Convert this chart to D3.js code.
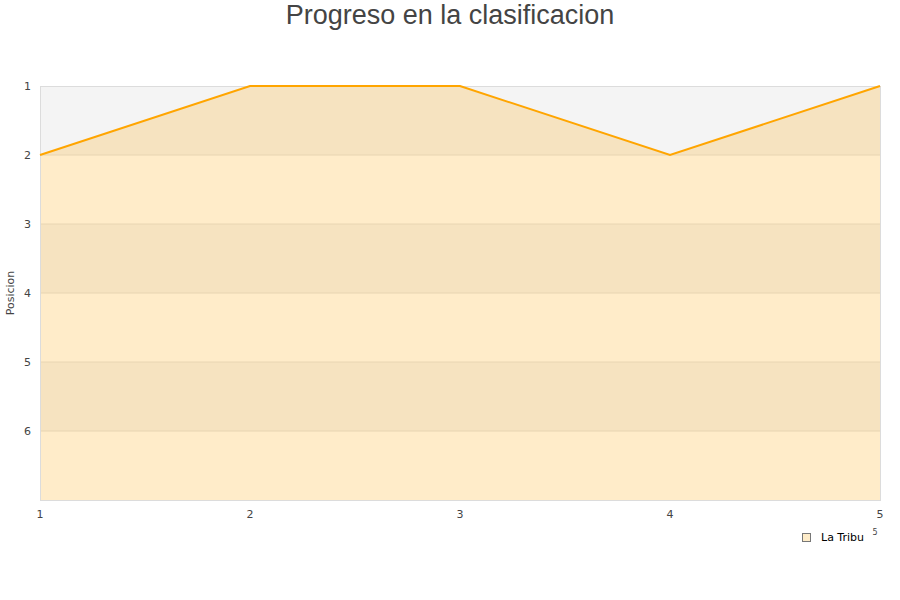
<!DOCTYPE html>
<html><head><meta charset="utf-8">
<script src="https://cdn.jsdelivr.net/npm/d3@7"></script>
<style>body{margin:0;background:#fff}svg{display:block}</style>
</head><body><svg id="c" width="900" height="600"></svg>
<script>
const rounds = [1, 2, 3, 4, 5];
const positions = [2, 1, 1, 2, 1];
const yTicks = [1, 2, 3, 4, 5, 6];
const seriesName = "La Tribu";
const title = "Progreso en la clasificacion";
const yLabel = "Posicion";

const svg = d3.select("#c");
const m = {l: 40, r: 20, t: 86, b: 100};
const W = 900, H = 600;
const x = d3.scaleLinear().domain([1, 5]).range([m.l, W - m.r]);
const y = d3.scaleLinear().domain([1, 7]).range([m.t, H - m.b]);

// alternating bands
const bands = d3.range(1, 7);
svg.selectAll("rect.band").data(bands).enter().append("rect")
  .attr("x", x(1)).attr("width", x(5) - x(1))
  .attr("y", d => y(d)).attr("height", d => y(d + 1) - y(d))
  .attr("fill", (d, i) => i % 2 === 0 ? "#f4f4f4" : "#ffffff");

// grid
svg.selectAll("line.grid").data(yTicks.slice(1)).enter().append("line")
  .attr("x1", x(1)).attr("x2", x(5))
  .attr("y1", d => y(d)).attr("y2", d => y(d))
  .attr("stroke", "#e2e2e2").attr("stroke-width", 1);

const data = rounds.map((r, i) => ({r, p: positions[i]}));
const area = d3.area().x(d => x(d.r)).y0(y(7)).y1(d => y(d.p));
const line = d3.line().x(d => x(d.r)).y(d => y(d.p));
svg.append("path").datum(data).attr("d", area)
  .attr("fill", "orange").attr("fill-opacity", 0.21);

// border
svg.append("rect").attr("x", x(1) + 0.5).attr("y", y(1) + 0.5)
  .attr("width", x(5) - x(1)).attr("height", y(7) - y(1))
  .attr("fill", "none").attr("stroke", "#dcdcdc");

svg.append("path").datum(data).attr("d", line)
  .attr("fill", "none").attr("stroke", "#ffa500").attr("stroke-width", 2);

// y axis labels
svg.selectAll("text.yt").data(yTicks).enter().append("text")
  .attr("x", 31).attr("y", d => y(d) + 4).attr("text-anchor", "end")
  .attr("font-family", "DejaVu Sans").attr("font-size", 11).attr("fill", "#444")
  .text(d => d);
// x axis labels
svg.selectAll("text.xt").data(rounds).enter().append("text")
  .attr("x", d => x(d)).attr("y", 518).attr("text-anchor", "middle")
  .attr("font-family", "DejaVu Sans").attr("font-size", 11).attr("fill", "#444")
  .text(d => d);

svg.append("text").attr("transform", `translate(14,${y(4)}) rotate(-90)`)
  .attr("text-anchor", "middle").attr("font-family", "DejaVu Sans")
  .attr("font-size", 11).attr("fill", "#444").text(yLabel);

svg.append("text").attr("x", 450).attr("y", 24).attr("text-anchor", "middle")
  .attr("font-family", "Liberation Sans").attr("font-size", 27).attr("fill", "#444")
  .text(title);

// legend
svg.append("rect").attr("x", 802.5).attr("y", 533.5).attr("width", 8).attr("height", 8)
  .attr("fill", "#feecc9").attr("stroke", "#777");
svg.append("text").attr("x", 821).attr("y", 541).attr("font-family", "DejaVu Sans")
  .attr("font-size", 11).attr("fill", "#000").text(seriesName);
svg.append("text").attr("x", 875).attr("y", 535).attr("text-anchor", "middle")
  .attr("font-family", "DejaVu Sans").attr("font-size", 8).attr("fill", "#444")
  .text(rounds[rounds.length - 1]);
</script></body></html>
